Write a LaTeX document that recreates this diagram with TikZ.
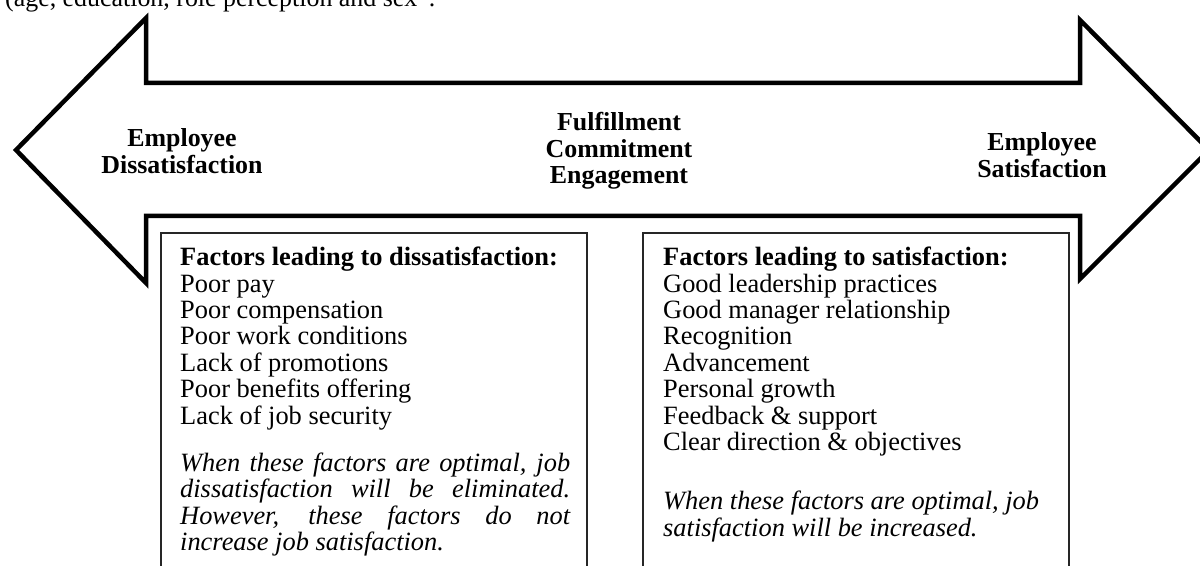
\documentclass[tikz,border=0pt]{standalone}
\usepackage{fontspec}
\setmainfont{Liberation Serif}
\begin{document}
\begin{tikzpicture}[x=1bp,y=-1bp,
  arrowline/.style={draw=black, line width=4.5bp, line join=miter, miter limit=10},
  boxline/.style={draw=black!85, line width=1.6bp, inner sep=0, anchor=north west},
  titletext/.style={font=\fontsize{26}{26.5}\selectfont\bfseries, align=center, inner sep=0, anchor=center},
  boxtext/.style={font=\fontsize{26.5}{26.5}\selectfont, text width=390bp, align=justify, inner sep=0, anchor=north west},
  toptext/.style={font=\fontsize{26}{26.5}\selectfont, inner sep=0, anchor=base west}
]
\useasboundingbox (0,0) rectangle (1200,566);
\clip (0,0) rectangle (1200,566);

\node[toptext] (top) at (5,7) {(age, education, role perception and sex''.};

% double-headed block arrow
\draw[arrowline] (16,150) -- (146,18) -- (146,83) -- (1080,83) -- (1080,20)
  -- (1209,150) -- (1080,279) -- (1080,216) -- (146,216) -- (146,283) -- cycle;

\node[titletext] (dis) at (182,151) {Employee\\Dissatisfaction};
\node[titletext] (mid) at (619,151) {Fulfillment\\Commitment\\Engagement};
\node[titletext] (sat) at (1042,155) {Employee\\Satisfaction};

% boxes (continue below the picture edge)
\node[boxline, draw, minimum width=426bp, minimum height=400bp] (lbox) at (160,232) {};
\node[boxline, draw, minimum width=426bp, minimum height=400bp] (rbox) at (642,232) {};

\node[boxtext] (ltext) at (180,247) {\textbf{Factors leading to dissatisfaction:}\\
Poor pay\\
Poor compensation\\
Poor work conditions\\
Lack of promotions\\
Poor benefits offering\\
Lack of job security\\[21bp]
\itshape When these factors are optimal, job\linebreak
dissatisfaction will be eliminated.\linebreak
However, these factors do not\linebreak
increase job satisfaction.};

\node[boxtext, text width=385bp] (rtext) at (663,247) {\textbf{Factors leading to satisfaction:}\\
Good leadership practices\\
Good manager relationship\\
Recognition\\
Advancement\\
Personal growth\\
Feedback \& support\\
Clear direction \& objectives\\[33bp]
\itshape When these factors are optimal, job\\
satisfaction will be increased.};
\end{tikzpicture}
\end{document}
